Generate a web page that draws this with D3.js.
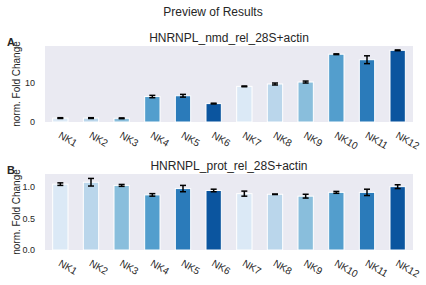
<!DOCTYPE html>
<html>
<head>
<meta charset="utf-8">
<script src="https://cdn.jsdelivr.net/npm/d3@7"></script>
<style>
body { margin: 0; background: #fff; }
text { font-family: "Liberation Sans", Arial, sans-serif; fill: #262626; }
</style>
</head>
<body>
<svg id="chart" width="426" height="285"></svg>
<script>
// data
var samples = ["NK1", "NK2", "NK3", "NK4", "NK5", "NK6", "NK7", "NK8", "NK9", "NK10", "NK11", "NK12"];
var nmdValues = [1.0, 1.0, 0.95, 6.5, 6.7, 4.7, 9.1, 9.7, 10.2, 17.3, 15.9, 18.3];
var nmdErrors = [0.1, 0.1, 0.1, 0.3, 0.35, 0.1, 0.1, 0.25, 0.25, 0.1, 1.0, 0.1];
var protValues = [1.04, 1.07, 1.02, 0.87, 0.97, 0.94, 0.89, 0.88, 0.85, 0.91, 0.91, 1.0];
var protErrors = [0.02, 0.06, 0.015, 0.02, 0.05, 0.02, 0.04, 0.004, 0.03, 0.015, 0.05, 0.03];
var nmdTicks = [0, 10];
var protTicks = [0, 0.5, 1.0];
var palette = ["#dbe9f6", "#bad6eb", "#89bedc", "#539ecd", "#2b7bba", "#0b559f"];

var svg = d3.select("#chart");

svg.append("text")
.attr("x", 213)
.attr("y", 15.5)
.attr("text-anchor", "middle")
.style("font-size", "12px")
.text("Preview of Results");

var x = d3.scaleBand()
.domain(samples)
.range([45, 413])
.paddingInner(0.5)
.paddingOuter(0.25);

function panel(top, bottom, values, errors, ymax, ticks, fmt, title, letter) {
    var y = d3.scaleLinear()
    .domain([0, ymax])
    .range([bottom, top]);

    var g = svg.append("g");

    g.append("rect")
    .attr("x", 45)
    .attr("y", top)
    .attr("width", 368)
    .attr("height", bottom - top)
    .attr("fill", "#eaeaf2");

    g.selectAll(".bar")
    .data(values)
    .enter().append("rect")
    .attr("class", "bar")
    .attr("x", function(d, i) { return x(samples[i]); })
    .attr("y", function(d) { return y(d); })
    .attr("width", x.bandwidth())
    .attr("height", function(d) { return y(0) - y(d); })
    .attr("fill", function(d, i) { return palette[i % palette.length]; })
    .attr("stroke", "#fff")
    .attr("stroke-width", 1);

    // error bars
    var eb = g.selectAll(".err")
    .data(values)
    .enter().append("g")
    .attr("class", "err")
    .attr("stroke", "#000")
    .attr("stroke-width", 1.5);

    eb.append("line")
    .attr("x1", function(d, i) { return x(samples[i]) + x.bandwidth() / 2; })
    .attr("x2", function(d, i) { return x(samples[i]) + x.bandwidth() / 2; })
    .attr("y1", function(d, i) { return y(d - errors[i]); })
    .attr("y2", function(d, i) { return y(d + errors[i]); });

    [-1, 1].forEach(function(s) {
        eb.append("line")
        .attr("x1", function(d, i) { return x(samples[i]) + x.bandwidth() / 2 - 3; })
        .attr("x2", function(d, i) { return x(samples[i]) + x.bandwidth() / 2 + 3; })
        .attr("y1", function(d, i) { return y(d + s * errors[i]); })
        .attr("y2", function(d, i) { return y(d + s * errors[i]); });
    });

    var yAxis = g.append("g")
    .attr("transform", "translate(45,0)")
    .call(d3.axisLeft(y).tickValues(ticks).tickSize(0).tickPadding(10).tickFormat(fmt));
    yAxis.select(".domain").remove();
    yAxis.selectAll("text")
    .style("font-size", "9px")
    .attr("fill", "#262626");

    var xAxis = g.append("g")
    .attr("transform", "translate(0," + bottom + ")")
    .call(d3.axisBottom(x).tickSize(0));
    xAxis.select(".domain").remove();
    xAxis.selectAll("text")
    .attr("y", 0)
    .attr("dy", null)
    .attr("text-anchor", "start")
    .attr("dominant-baseline", "hanging")
    .attr("transform", "translate(1,9) rotate(30)")
    .style("font-size", "10px")
    .attr("fill", "#262626");

    g.append("text")
    .attr("x", 229)
    .attr("y", top - 4.5)
    .attr("text-anchor", "middle")
    .style("font-size", "12px")
    .text(title);

    g.append("text")
    .attr("x", 7)
    .attr("y", top - 0.5)
    .style("font-size", "11px")
    .style("font-weight", "bold")
    .text(letter);

    g.append("text")
    .attr("transform", "translate(19.5," + (top + bottom) / 2 + ") rotate(-90)")
    .attr("text-anchor", "middle")
    .style("font-size", "10px")
    .text("norm. Fold Change");
}

panel(46, 122, nmdValues, nmdErrors, 19.4, nmdTicks, d3.format("d"), "HNRNPL_nmd_rel_28S+actin", "A");
panel(174, 250, protValues, protErrors, 1.2, protTicks, d3.format(".1f"), "HNRNPL_prot_rel_28S+actin", "B");
</script>
</body>
</html>
